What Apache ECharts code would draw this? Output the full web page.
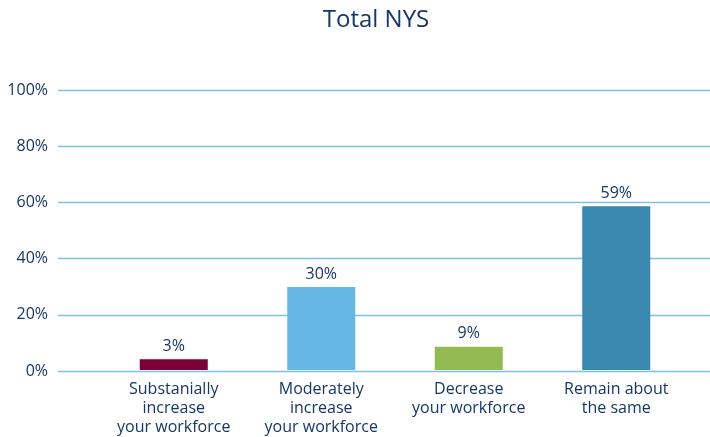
<!DOCTYPE html>
<html><head><meta charset="utf-8">
<script src="https://cdn.jsdelivr.net/npm/echarts@6/dist/echarts.min.js"></script>
<style>html,body{margin:0;padding:0;background:#fff}#c{width:710px;height:437px}</style>
</head><body><div id="c"></div>
<script>
const categories = ["Substanially\nincrease\nyour workforce", "Moderately\nincrease\nyour workforce", "Decrease\nyour workforce", "Remain about\nthe same"];
const values = [3.8, 29.6, 8.3, 58.5];
const valueLabels = ["3%", "30%", "9%", "59%"];
const barColors = ["#7a0038", "#66b7e5", "#94ba52", "#3a88ad"];
const yTicks = [0, 20, 40, 60, 80, 100];

const navy = "#15366b";
const font = "Open Sans";
const chart = echarts.init(document.getElementById('c'), null, {renderer: 'canvas'});
chart.setOption({
  animation: false,
  title: {text: "Total NYS", left: 371, top: 3, textAlign: 'center',
    textStyle: {color: navy, fontFamily: font, fontSize: 24, fontWeight: 'normal'}},
  grid: [
    {left: 58, right: 0, top: 90, bottom: 66},
    {left: 100, right: 20, top: 90, bottom: 66}
  ],
  xAxis: [
    {gridIndex: 0, type: 'category', data: categories, show: false},
    {gridIndex: 1, type: 'category', data: categories,
      axisLine: {show: false}, axisTick: {show: false},
      axisLabel: {color: navy, fontFamily: font, fontSize: 16, fontWeight: 'normal', lineHeight: 19, margin: 10, interval: 0}}
  ],
  yAxis: [
    {gridIndex: 0, type: 'value', min: 0, max: 100, interval: 20,
      axisLine: {show: false}, axisTick: {show: false},
      splitLine: {lineStyle: {color: "#7cc0e8", width: 1.3}},
      axisLabel: {color: navy, fontFamily: font, fontSize: 16, fontWeight: 'normal', margin: 10,
        formatter: v => yTicks.includes(v) ? v + '%' : ''}},
    {gridIndex: 1, type: 'value', min: 0, max: 100, interval: 20, show: false}
  ],
  series: [{
    type: 'bar', xAxisIndex: 1, yAxisIndex: 1, barWidth: 68,
    data: values.map((v, i) => ({value: v, itemStyle: {color: barColors[i]}})),
    label: {show: true, position: 'top', distance: 5, color: navy, fontFamily: font, fontSize: 16, fontWeight: 'normal',
      formatter: p => valueLabels[p.dataIndex]}
  }, {
    type: 'line', xAxisIndex: 0, yAxisIndex: 0, data: [], silent: true
  }]
});
</script></body></html>
